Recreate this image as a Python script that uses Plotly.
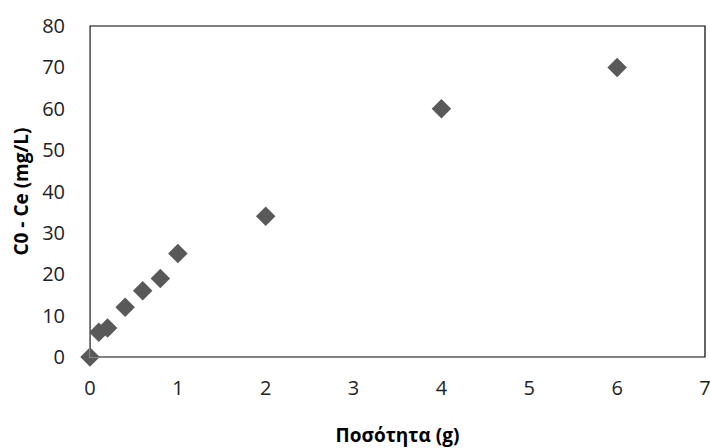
import plotly.graph_objects as go

# Adsorbent amount (g) and removed concentration C0 - Ce (mg/L)
quantity_g = [0, 0.1, 0.2, 0.4, 0.6, 0.8, 1, 2, 4, 6]
removed_mg_l = [0, 6, 7, 12, 16, 19, 25, 34, 60, 70]

x_ticks = [0, 1, 2, 3, 4, 5, 6, 7]
y_ticks = [0, 10, 20, 30, 40, 50, 60, 70, 80]

fig = go.Figure(
    go.Scatter(
        x=quantity_g,
        y=removed_mg_l,
        mode="markers",
        marker=dict(symbol="diamond", size=15, color="#595959", line=dict(width=0)),
        cliponaxis=False,
        showlegend=False,
    )
)

font_family = "Open Sans, Liberation Sans, sans-serif"

fig.update_layout(
    width=710,
    height=448,
    margin=dict(l=90, r=5, t=26, b=91),
    paper_bgcolor="white",
    plot_bgcolor="white",
    font=dict(family=font_family, size=20, color="#222222"),
    shapes=[
        dict(
            type="rect", xref="paper", yref="paper", x0=0, y0=0, x1=1, y1=1,
            line=dict(color="#000000", width=1.2), layer="below",
        )
    ],
)

fig.update_xaxes(
    range=[0, 7],
    tickvals=x_ticks,
    showgrid=False,
    zeroline=False,
    showline=True,
    linecolor="#868686",
    linewidth=1,
    ticks="",
    ticklabelstandoff=13,
    ticklabeloverflow="allow",
    automargin=False,
    title=dict(text="<b>Ποσότητα (g)</b>", font=dict(size=19, color="#000000"), standoff=28),
)

fig.update_yaxes(
    range=[0, 80],
    tickvals=y_ticks,
    showgrid=False,
    zeroline=False,
    showline=True,
    linecolor="#868686",
    linewidth=1,
    ticks="",
    ticklabelstandoff=20,
    ticklabeloverflow="allow",
    automargin=False,
    title=dict(text="<b>C0 - Ce (mg/L)</b>", font=dict(size=19, color="#000000"), standoff=8),
)

fig.write_html("out.html")
